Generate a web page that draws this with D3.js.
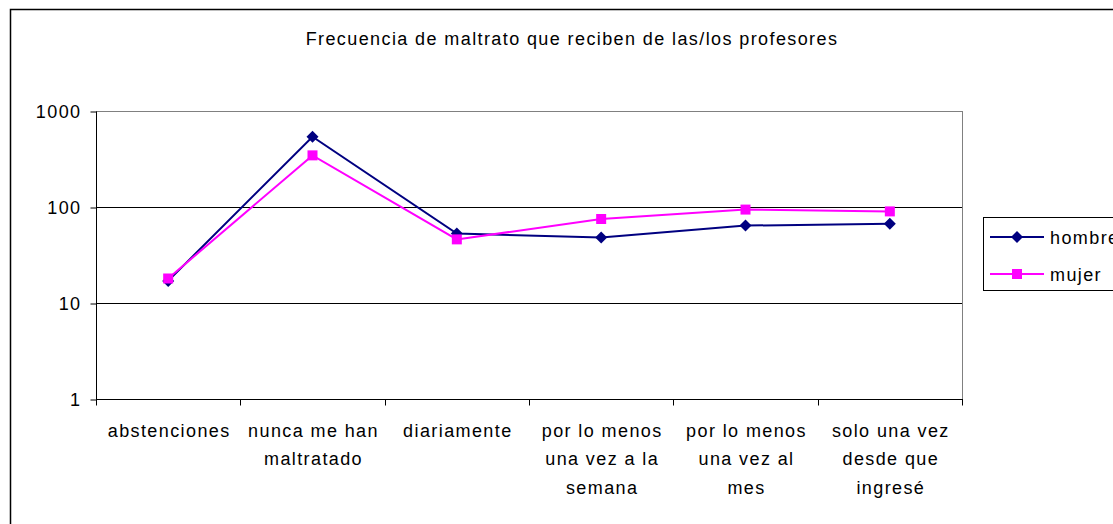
<html>
<head>
<meta charset="utf-8">
<script src="https://d3js.org/d3.v7.min.js"></script>
<style>
  body { margin: 0; background: #fff; }
  text { font-family: "Liberation Sans", Arial, sans-serif; fill: #000; }
</style>
</head>
<body>
<div id="wrapper"></div>
<script>
// data
var categories = [
  ["abstenciones"],
  ["nunca me han", "maltratado"],
  ["diariamente"],
  ["por lo menos", "una vez a la", "semana"],
  ["por lo menos", "una vez al", "mes"],
  ["solo una vez", "desde que", "ingresé"]
];
var hombre = [17, 540, 53, 48, 64, 67];
var mujer = [18, 345, 46, 75, 94, 90];
var yTicks = [1, 10, 100, 1000];
var seriesNames = ["hombre", "mujer"];
var seriesColors = ["#000080", "#ff00ff"];

var width = 1113, height = 524;
var plotLeft = 96, plotRight = 962, plotTop = 111, plotBottom = 399;
var fontSize = "18px", spacing = "1.4px";

var svg = d3.select("#wrapper").append("svg")
  .attr("width", width).attr("height", height);

// outer chart border (runs off the right/bottom edge)
svg.append("rect")
  .attr("x", 10.5).attr("y", 9.5)
  .attr("width", 1120).attr("height", 530)
  .attr("fill", "#fff").attr("stroke", "#000").attr("stroke-width", 1.5);

svg.append("text")
  .attr("x", 572).attr("y", 45)
  .attr("text-anchor", "middle")
  .style("font-size", fontSize).style("letter-spacing", spacing)
  .text("Frecuencia de maltrato que reciben de las/los profesores");

var xScale = d3.scaleBand().domain(d3.range(categories.length)).range([plotLeft, plotRight]);
var yScale = d3.scaleLog().domain([1, 1000]).range([plotBottom, plotTop]);

// plot area frame
svg.append("rect")
  .attr("x", plotLeft + 0.5).attr("y", plotTop + 0.5)
  .attr("width", plotRight - plotLeft).attr("height", plotBottom - plotTop)
  .attr("fill", "none").attr("stroke", "#808080").attr("stroke-width", 1);

// gridlines
svg.selectAll(".grid").data(yTicks.slice(1, -1)).enter().append("line")
  .attr("x1", plotLeft).attr("x2", plotRight)
  .attr("y1", function(d) { return Math.round(yScale(d)) + 0.5; })
  .attr("y2", function(d) { return Math.round(yScale(d)) + 0.5; })
  .attr("stroke", "#000").attr("stroke-width", 1);

// y axis
var yAxis = d3.axisLeft(yScale).tickValues(yTicks).tickFormat(d3.format("d")).tickSize(6).tickPadding(9);
var gy = svg.append("g").attr("transform", "translate(" + (plotLeft + 0.5) + ",0.5)").call(yAxis);
gy.selectAll("text").style("font-size", fontSize).style("letter-spacing", spacing)
  .style("font-family", "'Liberation Sans', Arial, sans-serif");
gy.selectAll("path, line").attr("stroke", "#000");
gy.select(".domain").attr("d", "M0," + plotTop + "V" + plotBottom);

// x axis: ticks at band boundaries
var gx = svg.append("g").attr("transform", "translate(0," + (plotBottom + 0.5) + ")");
gx.append("line").attr("x1", plotLeft).attr("x2", plotRight + 1).attr("stroke", "#000");
gx.selectAll(".tick").data(d3.range(categories.length + 1)).enter().append("line")
  .attr("x1", function(i) { return Math.round(plotLeft + i * xScale.step()) + 0.5; })
  .attr("x2", function(i) { return Math.round(plotLeft + i * xScale.step()) + 0.5; })
  .attr("y1", 0).attr("y2", 6).attr("stroke", "#000");
var labels = gx.selectAll(".lab").data(categories).enter().append("text")
  .attr("text-anchor", "middle")
  .style("font-size", fontSize).style("letter-spacing", spacing)
  .attr("transform", function(d, i) { return "translate(" + (xScale(i) + xScale.bandwidth() / 2 + 1) + ",0)"; });
labels.selectAll("tspan").data(function(d) { return d; }).enter().append("tspan")
  .attr("x", 0)
  .attr("y", function(d, j) { return 37.5 + j * 28.3; })
  .text(function(d) { return d; });

var line = d3.line()
  .x(function(d, i) { return xScale(i) + xScale.bandwidth() / 2; })
  .y(function(d) { return yScale(d); });

var allSeries = [hombre, mujer];
allSeries.forEach(function(vals, s) {
  svg.append("path").datum(vals)
    .attr("d", line).attr("fill", "none")
    .attr("stroke", seriesColors[s]).attr("stroke-width", 2);
  svg.selectAll(".m" + s).data(vals).enter().append("path")
    .attr("transform", function(d, i) { return "translate(" + (xScale(i) + xScale.bandwidth() / 2) + "," + yScale(d) + ")"; })
    .attr("d", s == 0 ? "M0,-6L6,0L0,6L-6,0Z" : "M-5,-5H5V5H-5Z")
    .attr("fill", seriesColors[s]);
});

// legend
var lg = svg.append("g");
lg.append("rect").attr("x", 983.5).attr("y", 217.5).attr("width", 150).attr("height", 73)
  .attr("fill", "#fff").attr("stroke", "#000");
seriesNames.forEach(function(name, s) {
  var y = 237 + s * 37;
  lg.append("line").attr("x1", 990).attr("x2", 1044).attr("y1", y).attr("y2", y)
    .attr("stroke", seriesColors[s]).attr("stroke-width", 2);
  lg.append("path")
    .attr("transform", "translate(1017," + y + ")")
    .attr("d", s == 0 ? "M0,-6L6,0L0,6L-6,0Z" : "M-5,-5H5V5H-5Z")
    .attr("fill", seriesColors[s]);
  lg.append("text").attr("x", 1050).attr("y", y + 6.5)
    .style("font-size", fontSize).style("letter-spacing", spacing).text(name);
});
</script>
</body>
</html>
